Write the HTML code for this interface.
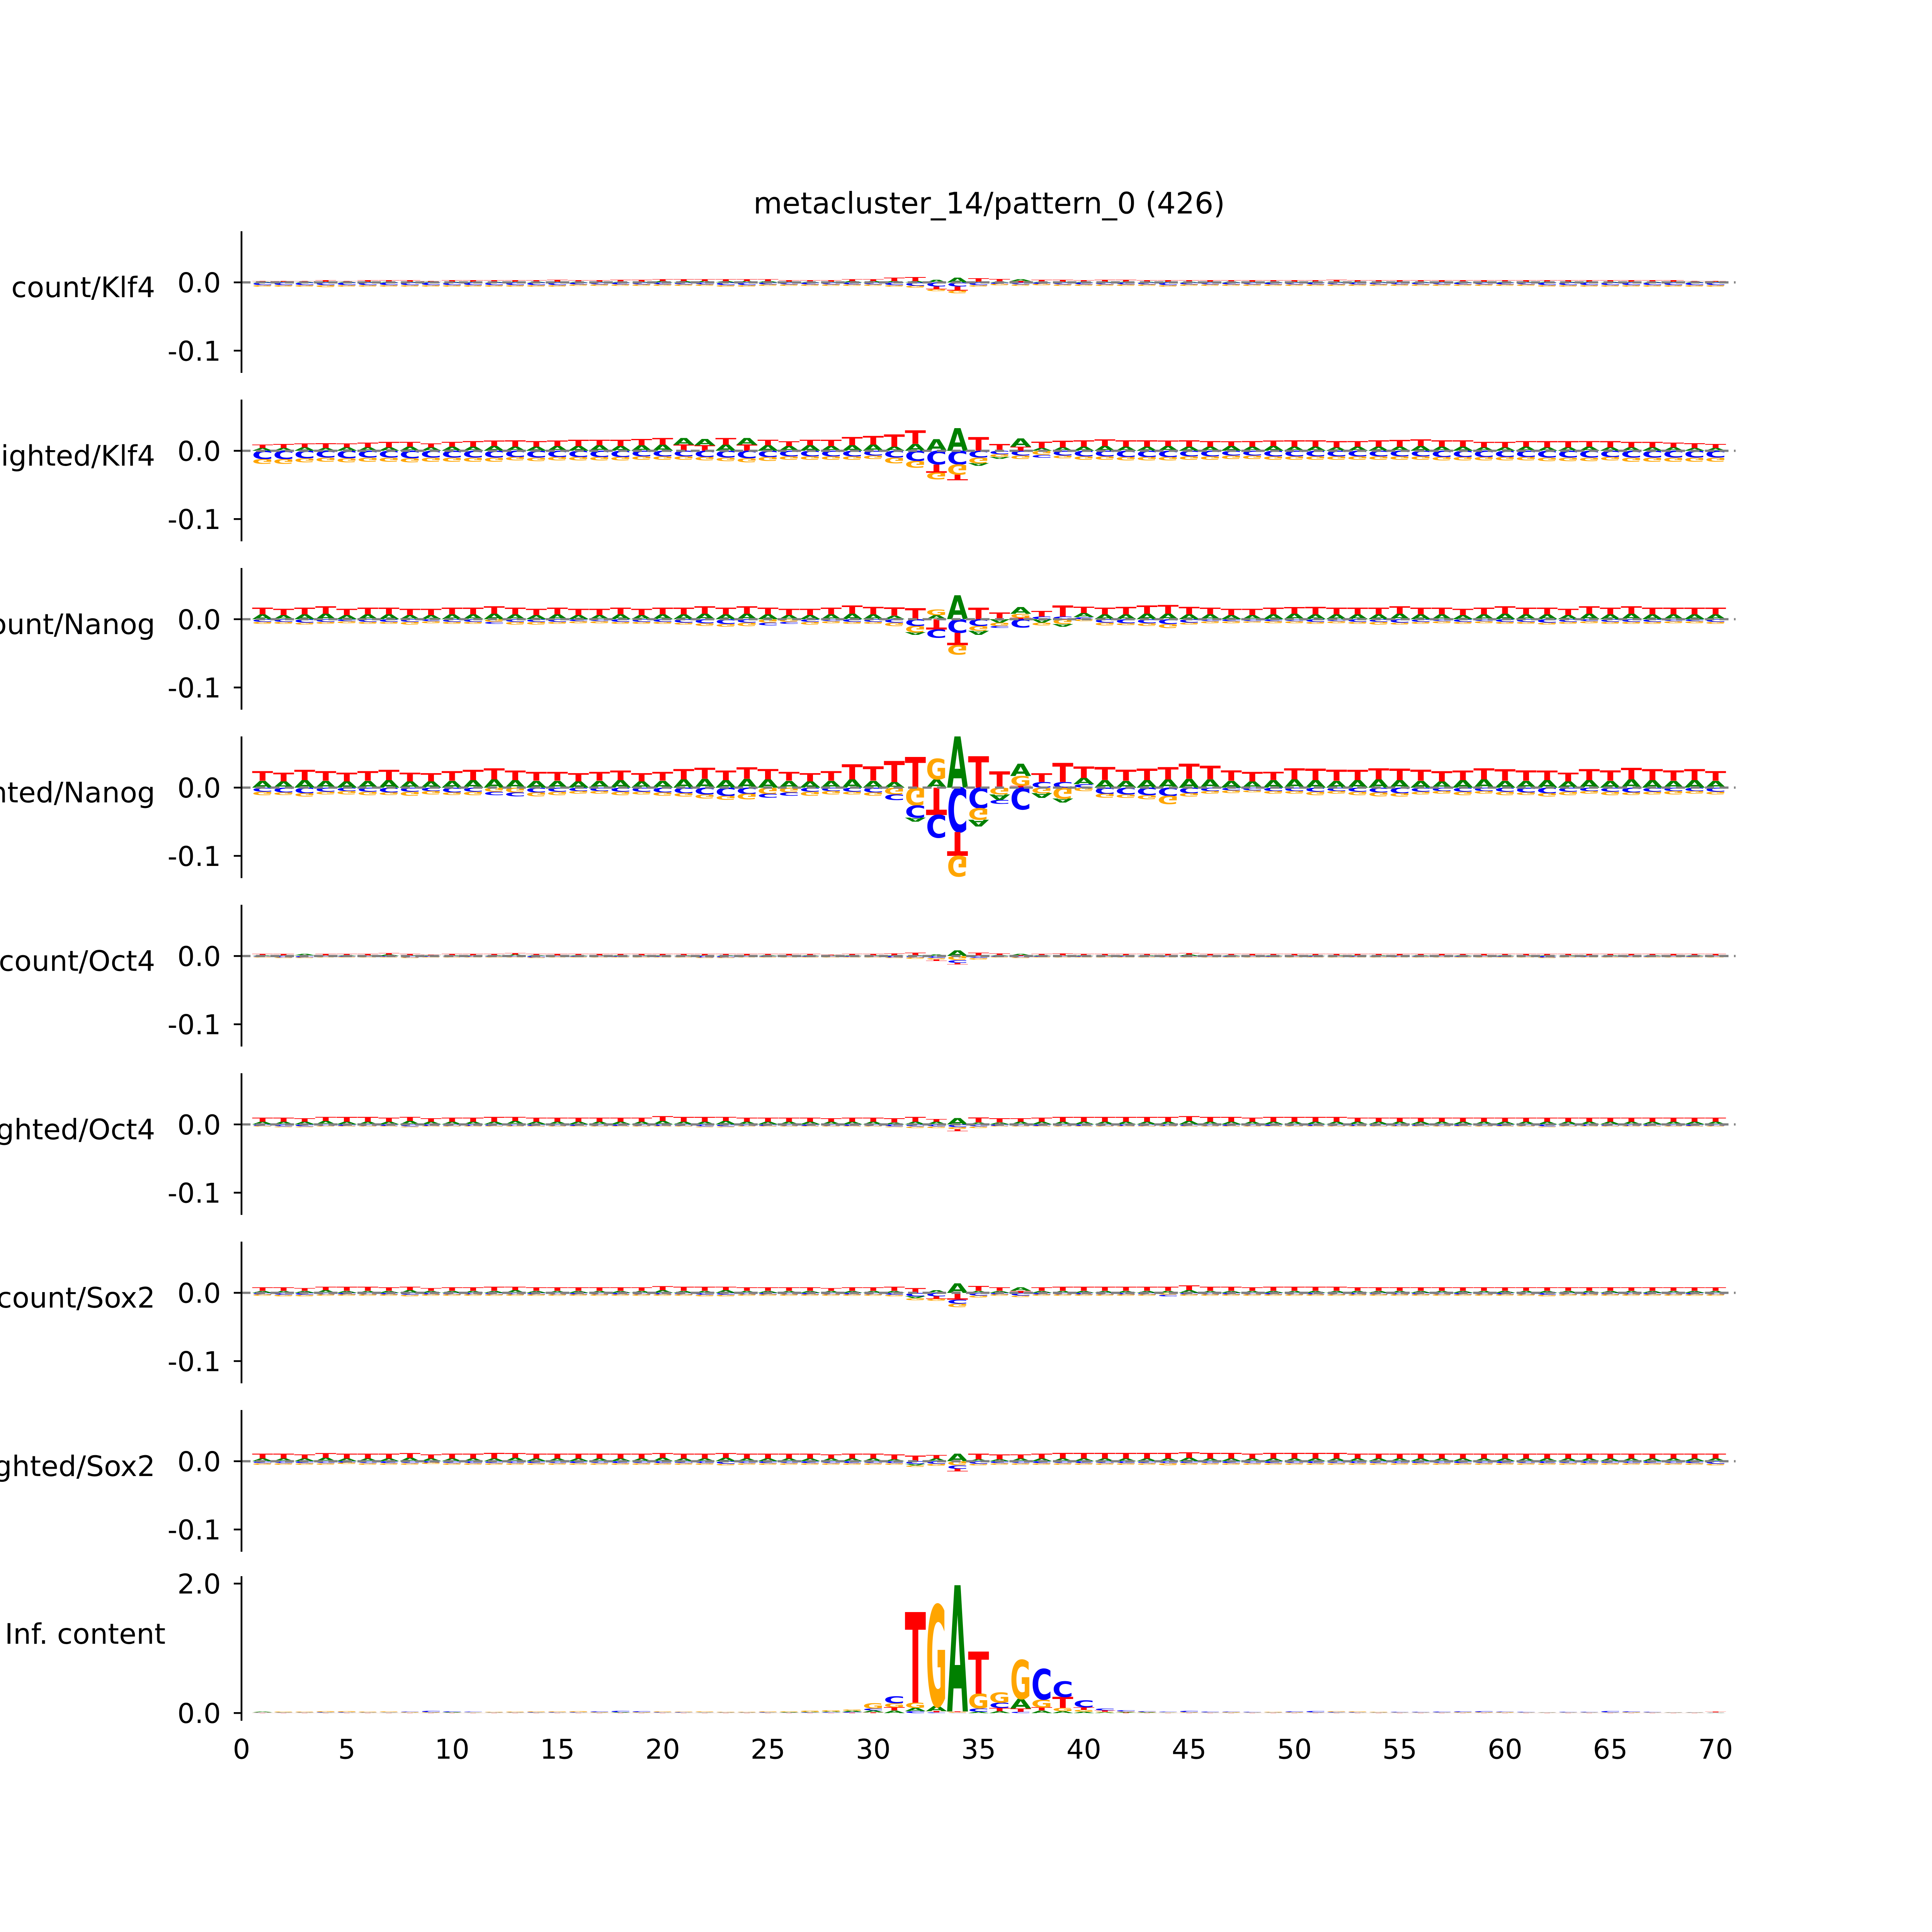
<!DOCTYPE html>
<html><head><meta charset="utf-8"><style>html,body{margin:0;padding:0;background:#fff;overflow:hidden}svg{display:block}</style></head>
<body>
<svg id="fig" xmlns="http://www.w3.org/2000/svg" width="6000" height="6000" viewBox="0 0 7200 7200" font-family="'DejaVu Sans','Liberation Sans',sans-serif">
<rect width="7200" height="7200" fill="#fff"/>
<text x="3072" y="663" font-size="92" text-anchor="middle">metacluster_14/pattern_0 (426)</text>
<g id="plots"></g>
</svg>
<script>
const trackNames = ["count/Klf4","weighted/Klf4","count/Nanog","weighted/Nanog","count/Oct4","weighted/Oct4","count/Sox2","weighted/Sox2"];
const contribTicks = [0.0, -0.1];
const contribTickLabels = ["0.0","-0.1"];
const icTicks = [0, 2];
const icTickLabels = ["0.0","2.0"];
const xTicks = [0,5,10,15,20,25,30,35,40,45,50,55,60,65,70];
const xTickLabels = ["0","5","10","15","20","25","30","35","40","45","50","55","60","65","70"];
// contribution values in units of 1e-3, positions 1..70
const cKlf4_A = [1,1,1,1,1,1,1,1,1,1, 1,1,1,1,1,1,1,1,1,2, 2,2,2,2,2,1,1,1,2,2, 2,2,4,7,1,1,3,1,1,1, 1,1,1,1,1,1,1,1,1,1, 1,1,1,1,1,1,1,1,1,1, 1,1,1,1,1,1,1,1,1,1];
const cKlf4_C = [-4,-4,-4,-4,-4,-4,-4,-4,-4,-4, -4,-4,-4,-4,-4,-3,-3,-3,-3,-3, -3,-3,-4,-4,-3,-3,-3,-3,-3,-3, -4,-5,-6,-6,-4,-2,-3,-2,-3,-3, -3,-3,-3,-4,-3,-3,-3,-3,-3,-3, -3,-3,-3,-3,-3,-3,-3,-3,-3,-3, -3,-4,-4,-4,-4,-4,-4,-4,-4,-4];
const cKlf4_G = [-2,-2,-2,-3,-2,-2,-2,-2,-2,-2, -2,-2,-2,-2,-2,-2,-2,-2,-2,-2, -2,-2,-2,-2,-2,-2,-2,-2,-2,-2, -2,-3,-3,-4,-2,-2,-2,-2,-2,-2, -2,-2,-2,-2,-2,-2,-2,-2,-2,-2, -2,-2,-2,-2,-2,-2,-2,-2,-2,-2, -2,-2,-2,-2,-2,-2,-2,-2,-2,-2];
const cKlf4_T = [1,1,1,2,1,2,2,2,1,2, 2,2,2,2,3,2,2,3,3,3, 3,3,3,3,3,2,2,2,3,3, 5,6,-4,-6,5,4,2,3,3,2, 3,3,2,2,2,2,2,2,2,2, 2,3,2,2,2,2,2,2,2,2, 2,2,2,2,2,2,2,2,1,1];
const wKlf4_A = [4,4,5,4,5,5,5,6,5,6, 6,7,6,6,7,7,8,7,8,9, 10,9,9,10,8,7,8,7,8,9, 6,10,17,33,-4,-3,12,4,5,6, 7,6,6,7,6,6,7,6,7,6, 6,5,6,6,6,7,6,6,5,5, 6,5,5,6,5,5,5,5,4,4];
const wKlf4_C = [-12,-12,-11,-10,-11,-10,-10,-11,-10,-10, -10,-10,-9,-10,-9,-9,-9,-9,-8,-8, -8,-9,-10,-11,-9,-8,-8,-8,-8,-7, -10,-15,-20,-20,-10,-5,-7,-4,-7,-8, -8,-9,-9,-9,-8,-8,-7,-7,-8,-8, -8,-8,-8,-8,-8,-8,-9,-9,-9,-9, -9,-10,-10,-10,-9,-10,-10,-10,-10,-10];
const wKlf4_G = [-7,-7,-6,-6,-6,-6,-6,-6,-6,-6, -6,-6,-5,-5,-5,-5,-5,-5,-5,-5, -5,-5,-5,-6,-6,-5,-5,-5,-5,-5, -8,-10,-10,-15,-8,-4,-5,-6,-4,-5, -5,-5,-5,-5,-5,-5,-5,-5,-5,-5, -5,-5,-5,-5,-5,-5,-5,-5,-5,-5, -5,-5,-5,-5,-5,-6,-6,-6,-6,-6];
const wKlf4_T = [5,6,6,7,6,7,8,7,6,7, 8,8,9,8,8,9,8,9,9,10, 9,8,10,9,8,7,8,9,12,13, 18,20,-12,-8,20,10,6,9,10,9, 10,9,9,8,9,8,7,8,8,9, 9,9,8,9,10,10,9,9,8,8, 8,9,9,8,9,8,8,7,7,6];
const cNanog_A = [7,6,7,8,6,7,7,6,6,7, 7,8,7,6,7,6,6,7,6,7, 7,8,7,8,7,6,6,7,8,7, 5,-4,6,35,-6,-5,10,-5,-4,6, 7,7,8,8,7,7,6,6,7,8, 7,7,7,7,8,7,7,6,7,8, 7,7,6,8,7,8,7,7,7,7];
const cNanog_C = [-4,-4,-5,-4,-3,-4,-4,-4,-3,-4, -4,-3,-4,-4,-4,-3,-3,-4,-4,-4, -5,-6,-7,-5,-4,-3,-4,-3,-4,-4, -5,-10,-12,-20,-10,-3,-12,4,4,3, -5,-6,-6,-7,-5,-3,-3,-3,-3,-3, -4,-3,-4,-4,-5,-4,-3,-4,-3,-4, -4,-5,-4,-3,-4,-4,-4,-3,-3,-4];
const cNanog_G = [-3,-3,-3,-3,-3,-3,-3,-4,-3,-3, -3,-4,-4,-4,-3,-3,-3,-3,-3,-3, -3,-4,-4,-5,-5,-4,-4,-3,-3,-3, -5,-9,8,-14,-7,-5,6,-4,-7,-3, -4,-3,-4,-6,-3,-3,-3,-2,-3,-3, -3,-3,-3,-4,-3,-3,-3,-3,-3,-3, -3,-3,-3,-3,-3,-3,-3,-3,-3,-3];
const cNanog_T = [10,9,10,11,9,10,10,9,9,10, 10,11,10,9,10,9,9,10,9,10, 10,11,10,11,10,9,9,10,12,11, 12,16,-15,-18,17,10,2,8,16,9, 10,11,12,13,11,10,9,9,10,10, 11,10,10,10,11,10,10,9,10,11, 10,10,9,11,10,11,10,10,10,10];
const wNanog_A = [10,9,11,10,9,10,11,9,9,10, 11,12,11,10,10,9,10,11,9,10, 12,13,11,13,12,10,9,10,12,10, 8,-6,12,75,-10,-8,18,-7,-6,9, 11,10,11,12,13,12,10,9,11,12, 11,10,11,12,11,10,9,11,12,10, 10,11,9,11,10,12,11,10,11,10];
const wNanog_C = [-6,-7,-8,-6,-5,-6,-7,-6,-5,-7, -6,-5,-6,-7,-6,-5,-5,-6,-6,-7, -8,-10,-12,-9,-6,-5,-6,-5,-6,-7, -8,-18,-33,-65,-30,-6,-32,8,8,5, -9,-10,-11,-12,-8,-5,-4,-4,-5,-5, -6,-5,-6,-7,-8,-6,-5,-6,-5,-6, -7,-8,-6,-5,-6,-7,-6,-5,-5,-6];
const wNanog_G = [-5,-4,-5,-4,-5,-5,-4,-6,-5,-4, -5,-6,-7,-6,-5,-4,-4,-5,-4,-5, -5,-6,-6,-8,-9,-7,-6,-5,-4,-5, -10,-26,30,-30,-17,-10,14,-8,-16,-5, -6,-5,-6,-12,-5,-4,-4,-3,-4,-4, -5,-4,-5,-6,-5,-4,-4,-5,-4,-5, -4,-5,-5,-4,-5,-4,-4,-5,-4,-4];
const wNanog_T = [14,13,15,14,13,14,15,13,12,14, 15,16,14,13,13,12,13,14,12,13, 15,16,14,17,15,13,12,14,22,21, 31,45,-40,-35,46,24,3,13,28,17, 19,16,17,18,22,20,15,14,12,16, 17,16,15,16,17,16,15,14,16,17, 15,14,13,16,15,17,16,15,16,14];
const cOct4_A = [1,1,2,1,1,1,2,1,1,1, 1,1,2,1,1,1,1,1,1,1, 1,1,1,1,1,1,1,1,1,1, 1,1,2,8,1,1,2,1,1,1, 1,1,1,1,2,1,1,1,1,1, 1,1,1,1,1,1,1,1,1,1, 1,1,1,1,1,1,1,1,1,1];
const cOct4_C = [-1,-2,-2,-1,-1,-1,-1,-2,-1,-1, -1,-1,-1,-2,-1,-1,-1,-1,-1,-1, -1,-2,-2,-1,-1,-1,-1,-1,-1,-1, -2,-2,-3,-4,-3,-1,-2,-1,-1,-1, -1,-1,-1,-1,-1,-1,-1,-1,-1,-1, -1,-1,-1,-1,-1,-1,-1,-1,-1,-1, -1,-2,-1,-1,-1,-1,-1,-1,-1,-1];
const cOct4_G = [-1,-1,-1,-1,-1,-1,-1,-1,-1,-1, -1,-1,-1,-1,-1,-1,-1,-1,-1,-1, -1,-1,-1,-1,-1,-1,-1,-1,-1,-1, -1,-2,-2,-6,-2,-1,-1,-1,-1,-1, -1,-1,-1,-1,-1,-1,-1,-1,-1,-1, -1,-1,-1,-1,-1,-1,-1,-1,-1,-1, -1,-1,-1,-1,-1,-1,-1,-1,-1,-1];
const cOct4_T = [2,2,1,2,2,2,2,2,1,2, 2,2,2,2,2,2,2,2,2,2, 2,2,2,2,2,2,2,1,2,2, 3,4,-2,-2,4,3,1,2,3,2, 2,2,2,2,2,2,2,2,2,2, 2,2,2,2,2,2,2,2,2,2, 2,2,2,2,2,2,2,2,2,2];
const wOct4_A = [4,4,4,5,4,4,4,5,4,4, 4,4,5,4,4,4,4,4,4,5, 4,4,5,4,4,4,4,4,4,4, 3,4,4,9,3,3,4,4,4,4, 4,4,4,4,5,4,4,4,4,4, 4,4,4,4,4,4,4,4,4,4, 4,4,4,4,4,4,4,4,4,4];
const wOct4_C = [-2,-3,-3,-2,-2,-2,-2,-3,-2,-2, -2,-2,-2,-2,-2,-2,-2,-2,-2,-2, -2,-3,-3,-2,-2,-2,-2,-2,-2,-2, -3,-3,-3,-4,-3,-2,-2,-2,-2,-2, -2,-2,-2,-2,-2,-2,-2,-2,-2,-2, -2,-2,-2,-2,-2,-2,-2,-2,-2,-2, -2,-3,-2,-2,-2,-2,-2,-2,-2,-2];
const wOct4_G = [-1,-1,-1,-1,-1,-1,-1,-1,-1,-1, -1,-1,-1,-1,-1,-1,-1,-1,-1,-1, -1,-1,-1,-1,-1,-1,-1,-1,-1,-1, -1,-2,-2,-3,-2,-1,-1,-1,-1,-1, -1,-1,-1,-1,-1,-1,-1,-1,-1,-1, -1,-1,-1,-1,-1,-1,-1,-1,-1,-1, -1,-1,-1,-1,-1,-1,-1,-1,-1,-1];
const wOct4_T = [6,6,5,6,7,7,6,6,5,6, 6,7,6,6,6,6,6,6,6,7, 7,7,6,6,6,6,6,5,6,6, 6,7,4,-3,7,6,5,6,7,7, 7,7,7,7,7,7,7,6,7,7, 7,7,6,6,6,6,6,6,6,6, 6,6,6,6,6,6,6,6,6,6];
const cSox2_A = [3,3,3,4,3,3,3,4,3,3, 3,3,4,3,3,3,3,3,3,4, 3,3,4,3,3,3,3,3,3,3, 3,-3,4,14,3,3,5,3,3,3, 3,3,3,3,4,3,3,3,3,3, 3,3,3,3,3,3,3,3,3,3, 3,3,3,3,3,3,3,3,3,3];
const cSox2_C = [-2,-3,-3,-2,-2,-2,-2,-3,-2,-2, -2,-2,-2,-2,-2,-2,-2,-2,-2,-2, -2,-3,-3,-2,-2,-2,-2,-2,-2,-2, -3,-5,-5,-6,-4,-2,-4,-2,-2,-2, -2,-2,-2,-2,-2,-2,-2,-2,-2,-2, -2,-2,-2,-2,-2,-2,-2,-2,-2,-2, -2,-3,-2,-2,-2,-2,-2,-2,-2,-2];
const cSox2_G = [-2,-2,-2,-2,-2,-2,-2,-2,-2,-2, -2,-2,-2,-2,-2,-2,-2,-2,-2,-2, -2,-2,-2,-2,-2,-2,-2,-2,-2,-2, -2,-3,-3,-5,-3,-2,-2,-2,-2,-2, -2,-2,-2,-3,-2,-2,-2,-2,-2,-2, -2,-2,-2,-2,-2,-2,-2,-2,-2,-2, -2,-2,-2,-2,-2,-2,-2,-2,-2,-2];
const cSox2_T = [5,5,4,5,6,6,5,5,4,5, 5,6,5,5,5,5,5,5,5,6, 6,6,5,5,5,5,5,4,5,5, 6,7,-4,-10,7,5,3,5,6,6, 6,6,6,6,7,6,6,5,6,6, 6,6,5,5,5,5,5,5,5,5, 5,5,5,5,5,5,5,5,5,5];
const wSox2_A = [4,4,4,5,4,4,4,5,4,4, 4,4,5,4,4,4,4,4,4,5, 4,4,5,4,4,4,4,4,4,4, 3,-2,4,11,3,3,4,4,4,4, 4,4,4,4,5,4,4,4,4,4, 4,4,4,4,4,4,4,4,4,4, 4,4,4,4,4,4,4,4,4,4];
const wSox2_C = [-3,-3,-3,-3,-2,-3,-3,-3,-2,-3, -3,-3,-3,-3,-3,-3,-3,-3,-3,-3, -3,-3,-4,-3,-3,-3,-3,-3,-3,-3, -3,-4,-4,-5,-4,-3,-3,-3,-3,-3, -3,-3,-3,-3,-3,-3,-3,-3,-3,-3, -3,-3,-3,-3,-3,-3,-3,-3,-3,-3, -3,-3,-3,-3,-3,-3,-3,-3,-3,-4];
const wSox2_G = [-2,-2,-2,-2,-2,-2,-2,-2,-2,-2, -2,-2,-2,-2,-2,-2,-2,-2,-2,-2, -2,-2,-2,-2,-2,-2,-2,-2,-2,-2, -2,-2,-3,-6,-2,-2,-2,-2,-2,-2, -2,-2,-2,-3,-2,-2,-2,-2,-2,-2, -2,-2,-2,-2,-2,-2,-2,-2,-2,-2, -2,-2,-2,-2,-2,-2,-2,-2,-2,-2];
const wSox2_T = [7,7,6,7,7,7,7,7,6,7, 7,8,7,7,7,7,7,7,7,7, 7,7,7,7,7,7,7,6,7,7, 7,8,5,-4,8,7,6,7,8,8, 8,8,8,8,8,8,8,7,8,8, 8,8,7,7,7,7,7,7,7,7, 7,7,7,7,7,7,7,7,7,7];
// information content (bits), positions 1..70
const ic_A = [0.012,0.005,0.004,0.005,0.004,0.004,0.005,0.004,0.005,0.006, 0.005,0.004,0.004,0.005,0.004,0.004,0.005,0.006,0.005,0.004, 0.004,0.005,0.004,0.004,0.005,0.006,0.008,0.01,0.02,0.03, 0.04,0.05,0.08,1.95,0.02,0.03,0.15,0.04,0.03,0.02, 0.01,0.008,0.006,0.005,0.004,0.004,0.005,0.004,0.004,0.004, 0.004,0.005,0.004,0.004,0.004,0.004,0.004,0.004,0.004,0.004, 0.004,0.004,0.004,0.004,0.004,0.004,0.004,0.004,0.004,0.004];
const ic_C = [0.004,0.004,0.004,0.006,0.006,0.004,0.005,0.008,0.02,0.01, 0.006,0.005,0.004,0.006,0.008,0.006,0.01,0.02,0.015,0.008, 0.006,0.005,0.004,0.004,0.006,0.005,0.006,0.008,0.01,0.03, 0.11,0.03,0.01,0.005,0.05,0.08,0.02,0.47,0.24,0.11, 0.03,0.02,0.01,0.006,0.02,0.01,0.008,0.006,0.005,0.01, 0.02,0.008,0.006,0.005,0.006,0.008,0.01,0.012,0.015,0.008, 0.006,0.005,0.006,0.008,0.02,0.01,0.006,0.005,0.004,0.004];
const ic_G = [0.004,0.01,0.012,0.015,0.014,0.012,0.01,0.006,0.006,0.005, 0.005,0.006,0.01,0.012,0.01,0.015,0.006,0.005,0.006,0.01, 0.008,0.01,0.008,0.006,0.01,0.012,0.02,0.02,0.02,0.08, 0.06,0.08,1.56,0.01,0.23,0.16,0.6,0.12,0.05,0.03, 0.01,0.008,0.006,0.005,0.006,0.005,0.006,0.005,0.008,0.006, 0.005,0.01,0.012,0.008,0.004,0.004,0.005,0.006,0.008,0.006, 0.005,0.004,0.005,0.004,0.004,0.006,0.004,0.004,0.004,0.004];
const ic_T = [0.003,0.003,0.003,0.003,0.003,0.003,0.003,0.003,0.003,0.003, 0.003,0.003,0.003,0.003,0.003,0.003,0.003,0.003,0.003,0.003, 0.003,0.003,0.003,0.003,0.003,0.003,0.004,0.005,0.006,0.01, 0.05,1.4,0.02,0.01,0.65,0.05,0.05,0.05,0.17,0.04, 0.02,0.006,0.004,0.003,0.003,0.003,0.003,0.003,0.003,0.003, 0.003,0.003,0.003,0.003,0.003,0.003,0.003,0.003,0.003,0.003, 0.003,0.003,0.003,0.003,0.003,0.003,0.003,0.003,0.003,0.01];

const trackA = [cKlf4_A,wKlf4_A,cNanog_A,wNanog_A,cOct4_A,wOct4_A,cSox2_A,wSox2_A];
const trackC = [cKlf4_C,wKlf4_C,cNanog_C,wNanog_C,cOct4_C,wOct4_C,cSox2_C,wSox2_C];
const trackG = [cKlf4_G,wKlf4_G,cNanog_G,wNanog_G,cOct4_G,wOct4_G,cSox2_G,wSox2_G];
const trackT = [cKlf4_T,wKlf4_T,cNanog_T,wNanog_T,cOct4_T,wOct4_T,cSox2_T,wSox2_T];

const NS = "http://www.w3.org/2000/svg";
const root = document.getElementById("plots");
const X0 = 750, XU = 65.4;
const xScale = v => X0 + v * XU;
const COLORS = {A:"#008000", C:"#0000ff", G:"#ffa500", T:"#ff0000"};
function mk(tag, attrs, parent){ const e=document.createElementNS(NS,tag); for(const k in attrs) e.setAttribute(k, attrs[k]); (parent||root).appendChild(e); return e; }

function drawLetter(g, ch, pos, yEdge, h, flip){
  if (h <= 0.3) return;
  const w = XU;
  const sy = h / 72.9;
  const t = mk("text", {x: 0, y: 0, "font-size": 100, "font-weight": "bold", fill: COLORS[ch], textLength: w, lengthAdjust: "spacingAndGlyphs",
    transform: `translate(${xScale(pos) - w/2},${yEdge}) scale(1,${flip ? -sy : sy})`}, g);
  
  
  t.textContent = ch;
}

function drawLogo(g, arrs, yScale, zeroY){
  const bases = ["A","C","G","T"];
  for (let i = 0; i < 70; i++){
    const pos = i + 1;
    const vals = bases.map((b, k) => ({b, v: arrs[k][i]}));
    const pos_ = vals.filter(d => d.v > 0).sort((a,b) => a.v - b.v);
    const neg_ = vals.filter(d => d.v < 0).sort((a,b) => a.v - b.v);
    let y = zeroY;
    for (const d of pos_){ const h = yScale(0) - yScale(d.v); drawLetter(g, d.b, pos, y, h, false); y -= h; }
    y = zeroY;
    for (const d of neg_){ const h = yScale(d.v) - yScale(0); drawLetter(g, d.b, pos, y, h, true); y += h; }
  }
}

function yAxis(g, x, yTop, yBot, ticks, labels, ys){
  const sp = mk("line", {x1:x, x2:x, y1:yTop, y2:yBot, stroke:"#000", "stroke-width":5.5}, g);
  
  
  ticks.forEach((t, k) => {
    const y = ys(t);
    const tk = mk("line", {x1:x-24, x2:x, y1:y, y2:y, stroke:"#000", "stroke-width":5.5}, g);
    
    
    const tl = mk("text", {x: 686, y: y + 31, "font-size": 85, "text-anchor": "end", fill:"#000"}, g);
    
    
    tl.textContent = labels[k];
  });
}

trackNames.forEach((name, k) => {
  const zero = 877 + 523 * k;
  const yScale = v => zero - v * 2.12;
  const g = mk("g", {});
  
  
  drawLogo(g, [trackA[k], trackC[k], trackG[k], trackT[k]], yScale, zero);
  const zl = mk("line", {x1: 750, x2: 5390, y1: zero, y2: zero, stroke: "#808080", "stroke-width": 7, "stroke-dasharray": "28 17"}, g);
  
  
  yAxis(g, 750, zero - 159, zero + 281, contribTicks, contribTickLabels, v => yScale(v * 1000));
  const lab = mk("text", {x: 482, y: zero + 46, "font-size": 88, "text-anchor": "end", fill: "#000"}, g);
  
  
  lab.textContent = name;
});

{
  const zero = 5320;
  const yScale = v => zero - v * 201;
  const g = mk("g", {});
  
  
  drawLogo(g, [ic_A, ic_C, ic_G, ic_T], yScale, zero);
  yAxis(g, 750, 4895, 5344, icTicks, icTickLabels, yScale);
  const lab = mk("text", {x: 514, y: 5105, "font-size": 88, "text-anchor": "end", fill: "#000"}, g);
  
  
  lab.textContent = "Inf. content";
  xTicks.forEach((t, k) => {
    const tl = mk("text", {x: xScale(t), y: 5462, "font-size": 85, "text-anchor": "middle", fill: "#000"}, g);
    
    
    tl.textContent = xTickLabels[k];
  });
}
</script>
</body></html>
